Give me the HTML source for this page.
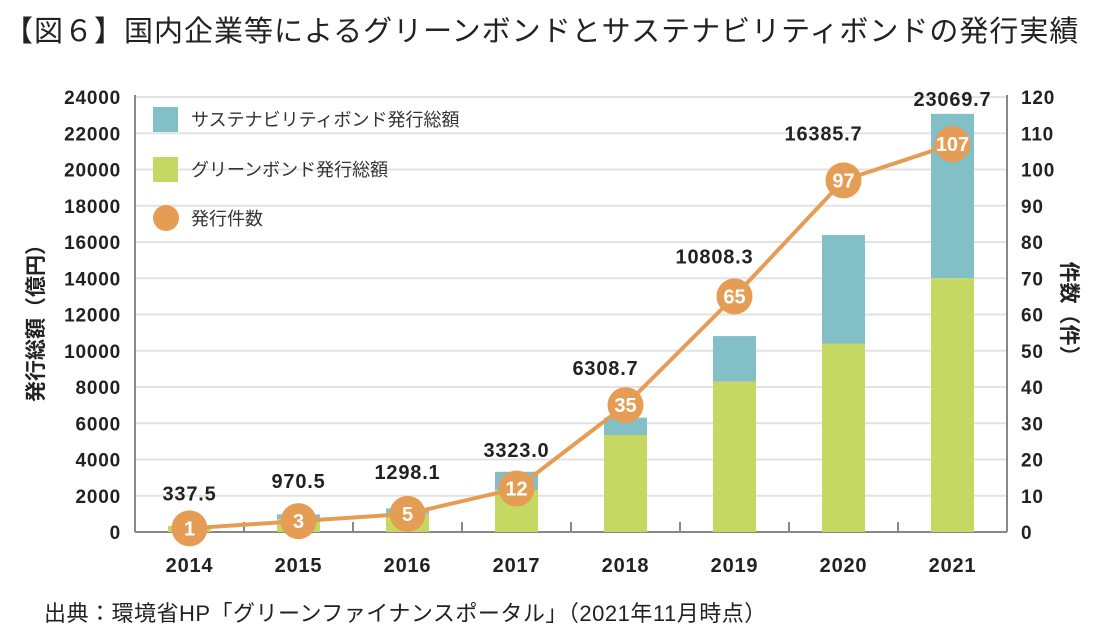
<!DOCTYPE html>
<html><head><meta charset="utf-8">
<style>
body{margin:0;background:#fff;width:1097px;height:640px;overflow:hidden;font-family:"Liberation Sans","Noto Sans CJK JP",sans-serif;}
#title{position:absolute;left:4px;top:8px;font-size:29px;color:#222;letter-spacing:1px;white-space:nowrap;}
#src{position:absolute;left:44px;top:596px;font-size:22px;color:#222;white-space:nowrap;letter-spacing:0.5px;}
svg{position:absolute;left:0;top:0;}
</style></head><body>
<div id="title">【図６】国内企業等によるグリーンボンドとサステナビリティボンドの発行実績</div>
<div id="src">出典：環境省HP「グリーンファイナンスポータル」（2021年11月時点）</div>
<svg id="chart" width="1097" height="640"></svg>
<script>
const years=["2014","2015","2016","2017","2018","2019","2020","2021"];
const totals=[337.5,970.5,1298.1,3323.0,6308.7,10808.3,16385.7,23069.7];
const green=[330,700,1000,2300,5350,8300,10400,14000];
const counts=[1,3,5,12,35,65,97,107];
const leftTicks=[0,2000,4000,6000,8000,10000,12000,14000,16000,18000,20000,22000,24000];
const rightTicks=[0,10,20,30,40,50,60,70,80,90,100,110,120];

const NS="http://www.w3.org/2000/svg";
const svg=document.getElementById('chart');
const X0=135,X1=1007,Y0=532,Y1=97;
const band=(X1-X0)/years.length;
const xc=i=>X0+band*(i+0.5);
const yL=v=>Y0-(v/24000)*(Y0-Y1);
const yR=v=>Y0-(v/120)*(Y0-Y1);
function mk(tag,attrs,txt){const e=document.createElementNS(NS,tag);for(const k in attrs)e.setAttribute(k,attrs[k]);if(txt!==undefined)e.textContent=txt;svg.appendChild(e);return e;}
const F='"Liberation Sans","Noto Sans CJK JP",sans-serif';

leftTicks.forEach((v,i)=>{
  if(v>0){const g=mk('line',{x1:X0,x2:X1,y1:yL(v),y2:yL(v),stroke:'#e2e2e2','stroke-width':2});
  
  }
  const t=mk('text',{x:121,y:yL(v)+7,'text-anchor':'end','font-size':19,'font-weight':'bold','font-family':F,fill:'#222','letter-spacing':0.8},v);
  
  
});
rightTicks.forEach(v=>{
  const t=mk('text',{x:1021,y:yR(v)+7,'font-size':19,'font-weight':'bold','font-family':F,fill:'#222','letter-spacing':0.8},v);
  
  
});
let a=mk('line',{x1:X0,x2:X0,y1:Y1-2,y2:Y0,stroke:'#888','stroke-width':2});


a=mk('line',{x1:X1,x2:X1,y1:Y1-2,y2:Y0,stroke:'#888','stroke-width':2});


a=mk('line',{x1:X0,x2:X1,y1:Y0,y2:Y0,stroke:'#888','stroke-width':2});


for(let i=1;i<years.length;i++){
  const t=mk('line',{x1:X0+band*i,x2:X0+band*i,y1:Y0,y2:Y0-10,stroke:'#888','stroke-width':2});
  
  
}
const BW=43;
years.forEach((y,i)=>{
  const s=mk('rect',{x:xc(i)-BW/2,y:yL(totals[i]),width:BW,height:yL(green[i])-yL(totals[i]),fill:'#82bfc6'});
  
  
  const g=mk('rect',{x:xc(i)-BW/2,y:yL(green[i]),width:BW,height:Y0-yL(green[i]),fill:'#c4d862'});
  
  
  const xl=mk('text',{x:xc(i),y:572,'text-anchor':'middle','font-size':20,'font-weight':'bold','font-family':F,fill:'#222','letter-spacing':0.8},y);
  
  
});
const pts=counts.map((c,i)=>xc(i)+','+yR(c)).join(' ');
const ln=mk('polyline',{points:pts,fill:'none',stroke:'#e59d55','stroke-width':4});


counts.forEach((c,i)=>{
  const cy=yR(c);
  const m=mk('circle',{cx:xc(i),cy:cy,r:18,fill:'#e59d55'});
  
  
  const t=mk('text',{x:xc(i),y:cy+7,'text-anchor':'middle','font-size':20,'font-weight':'bold','font-family':F,fill:'#fff'},c);
  
  
});
const totalLabelY=[yR(counts[0])-28,yR(counts[1])-33,yR(counts[2])-35,yL(totals[3])-15,yR(counts[4])-30,yR(counts[5])-33,yR(counts[6])-40,yL(totals[7])-8];
totals.forEach((v,i)=>{
  const t=mk('text',{x:xc(i)+(i>=4&&i<7?-20:0),y:totalLabelY[i],'text-anchor':'middle','font-size':20,'font-weight':'bold','font-family':F,fill:'#222','letter-spacing':0.8},v.toFixed(1));
  
  
});
let r=mk('rect',{x:153,y:107,width:25,height:25,fill:'#82bfc6'});


let lt=mk('text',{x:191,y:126,'font-size':18,'font-family':F,fill:'#333'},'サステナビリティボンド発行総額');


r=mk('rect',{x:153,y:157,width:25,height:25,fill:'#c4d862'});


lt=mk('text',{x:191,y:176,'font-size':18,'font-family':F,fill:'#333'},'グリーンボンド発行総額');


r=mk('circle',{cx:166,cy:218,r:13,fill:'#e59d55'});


lt=mk('text',{x:191,y:225,'font-size':18,'font-family':F,fill:'#333'},'発行件数');


let at=mk('text',{x:0,y:0,'text-anchor':'middle','font-size':21,'font-weight':'bold','font-family':F,fill:'#222',transform:'translate(43,318) rotate(-90)'},'発行総額（億円）');


at=mk('text',{x:0,y:0,'text-anchor':'middle','font-size':21,'font-weight':'bold','font-family':F,fill:'#222',transform:'translate(1062,314) rotate(90)'},'件数（件）');


</script>
</body></html>
